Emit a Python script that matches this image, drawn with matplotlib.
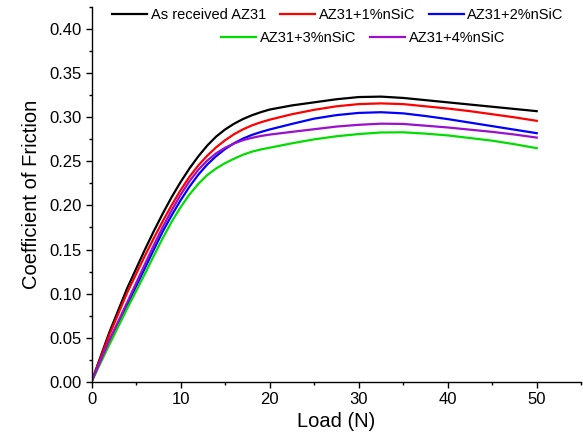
import matplotlib
matplotlib.use("Agg")
import matplotlib.pyplot as plt
from matplotlib.lines import Line2D
from matplotlib.ticker import MultipleLocator, FormatStrFormatter

plt.rcParams["font.family"] = ["Liberation Sans", "DejaVu Sans"]

# Load (N) sample points
load = [0, 2, 4, 6, 7, 8, 9, 10, 11, 12, 13, 14, 15, 16, 17, 18, 19, 20,
        22.5, 25, 27.5, 30, 32.5, 35, 37.5, 40, 42.5, 45, 47.5, 50]

cof_as_received = [0, 0.056, 0.106, 0.150, 0.1710, 0.1908, 0.2095, 0.2265, 0.2420, 0.2558,
                   0.2680, 0.2782, 0.2862, 0.2927, 0.2980, 0.3023, 0.3058, 0.3088,
                   0.3135, 0.3170, 0.3205, 0.3230, 0.3235, 0.3220, 0.3195, 0.3170,
                   0.3145, 0.3120, 0.3095, 0.3070]
cof_1pct = [0, 0.053, 0.101, 0.143, 0.1630, 0.1822, 0.2003, 0.2173, 0.2325, 0.2455,
            0.2565, 0.2660, 0.2740, 0.2808, 0.2863, 0.2908, 0.2943, 0.2973,
            0.3035, 0.3085, 0.3125, 0.3150, 0.3158, 0.3150, 0.3125, 0.3100,
            0.3070, 0.3035, 0.3000, 0.2960]
cof_2pct = [0, 0.046, 0.087, 0.129, 0.150, 0.1705, 0.1888, 0.2058, 0.2213, 0.2350,
            0.2465, 0.2560, 0.2640, 0.2705, 0.2758, 0.2800, 0.2833, 0.2862,
            0.2925, 0.2985, 0.3025, 0.3050, 0.3058, 0.3045, 0.3015, 0.2980,
            0.2940, 0.2900, 0.2860, 0.2820]
cof_3pct = [0, 0.042, 0.083, 0.1225, 0.1430, 0.1630, 0.1815, 0.1980, 0.2125, 0.2245,
            0.2345, 0.2420, 0.2480, 0.2530, 0.2575, 0.2610, 0.2635, 0.2655,
            0.2705, 0.2750, 0.2785, 0.2810, 0.2828, 0.2830, 0.2815, 0.2795,
            0.2765, 0.2735, 0.2695, 0.2650]
cof_4pct = [0, 0.047, 0.0900, 0.1335, 0.1550, 0.1755, 0.1945, 0.2120, 0.2275, 0.2405,
            0.2510, 0.2592, 0.2655, 0.2703, 0.2740, 0.2767, 0.2788, 0.2804,
            0.2835, 0.2865, 0.2895, 0.2915, 0.2928, 0.2925, 0.2905, 0.2885,
            0.2860, 0.2835, 0.2805, 0.2770]

labels = ["As received AZ31", "AZ31+1%nSiC", "AZ31+2%nSiC", "AZ31+3%nSiC", "AZ31+4%nSiC"]
series = [cof_as_received, cof_1pct, cof_2pct, cof_3pct, cof_4pct]
colors = ["#000000", "#FF0000", "#0000FF", "#00DD00", "#9A10CC"]

fig = plt.figure(figsize=(5.83, 4.48), dpi=100)
ax = fig.add_axes([0.157, 0.148, 0.840, 0.836])

for y, c in zip(series, colors):
    ax.plot(load, y, color=c, linewidth=1.6, solid_joinstyle="round")

ax.set_xlim(0, 55)
ax.set_ylim(0, 0.425)
ax.xaxis.set_major_locator(MultipleLocator(10))
ax.xaxis.set_minor_locator(MultipleLocator(5))
ax.yaxis.set_major_locator(MultipleLocator(0.05))
ax.yaxis.set_minor_locator(MultipleLocator(0.025))
ax.yaxis.set_major_formatter(FormatStrFormatter("%.2f"))

for s in ("top", "right"):
    ax.spines[s].set_visible(False)
for s in ("left", "bottom"):
    ax.spines[s].set_linewidth(1.0)

ax.tick_params(which="major", direction="out", length=4.2, width=1.0, labelsize=12, pad=3)
ax.tick_params(which="minor", direction="out", length=2.4, width=1.0)

ax.set_xlabel("Load (N)", fontsize=14.5, labelpad=4)
ax.set_ylabel("Coefficient of Friction", fontsize=14.5, labelpad=6)

handles = [Line2D([], [], color=c, linewidth=1.6) for c in colors]
leg_kw = dict(frameon=False, fontsize=10.5, handlelength=2.4, handletextpad=0.25,
              columnspacing=0.95, borderpad=0, borderaxespad=0)
fig.legend(handles[:3], labels[:3], ncol=3, loc="center",
           bbox_to_anchor=(338 / 583, 1 - 15 / 448), **leg_kw)
fig.legend(handles[3:], labels[3:], ncol=2, loc="center",
           bbox_to_anchor=(363 / 583, 1 - 38 / 448), **leg_kw)

fig.savefig("out.png", dpi=100, facecolor="white")
